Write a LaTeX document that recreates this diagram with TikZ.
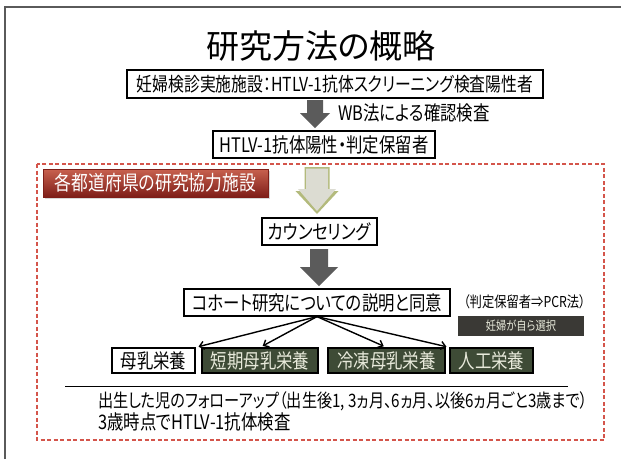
\documentclass[tikz,border=0pt]{standalone}
\usepackage{fontspec}
\usetikzlibrary{arrows.meta,shadows}
\newfontfamily\jp[RawFeature=+palt,FakeStretch=0.82]{Noto Sans CJK JP}
\newfontfamily\jptitle[RawFeature=+palt]{Noto Sans CJK JP}
\definecolor{framegray}{HTML}{5A5A5A}
\definecolor{arrowgray}{HTML}{5B5B5B}
\definecolor{lightfill}{HTML}{DCDCD2}
\definecolor{lightedge}{HTML}{B3BA7C}
\definecolor{dashred}{HTML}{D4554B}
\definecolor{labtop}{HTML}{C8614F}
\definecolor{labbot}{HTML}{7E1E18}
\definecolor{boxgreen}{HTML}{3E4B36}
\definecolor{boxtext}{HTML}{E8EADB}
\definecolor{selfill}{HTML}{3A3935}
\newcommand{\blockarr}[7]{%
  \fill[#1] (#2-#5,#3) -- (#2+#5,#3) -- (#2+#5,#4-#7) -- (#2+#6,#4-#7) -- (#2,#4)
    -- (#2-#6,#4-#7) -- (#2-#5,#4-#7) -- cycle;}
\begin{document}
\begin{tikzpicture}[x=1pt,y=-1pt,
  txt/.style={inner sep=0pt, font=\jp\fontsize{20}{22}\selectfont},
  box/.style={draw=black, line width=1.2pt, fill=white, inner sep=0pt,
    font=\jp\fontsize{20}{22}\selectfont},
  gbox/.style={box, fill=boxgreen, text=boxtext},
  redlabel/.style={draw=labbot, line width=0.6pt, top color=labtop, bottom color=labbot,
    text=white, inner sep=0pt, font=\jp\fontsize{20.5}{22}\selectfont,
    drop shadow={opacity=0.3, shadow xshift=1.5pt, shadow yshift=-1.5pt}},
  selbox/.style={fill=selfill, text=boxtext, inner sep=0pt,
    font=\jp\fontsize{12.5}{14}\selectfont},
  conn/.style={draw=black, line width=1.4pt, shorten >=3pt,
    -{Straight Barb[length=4.5pt,width=8pt]}},
  reddash/.style={draw=dashred, line width=1.2pt, dash pattern=on 4pt off 2.5pt}
]
\useasboundingbox (0,0) rectangle (621,459);
\fill[white] (0,0) rectangle (621,459);
\draw[framegray, line width=1.5pt] (5,459) -- (5,7) -- (621,7);

% title
\node[inner sep=0pt, font=\jptitle\fontsize{33}{36}\selectfont] (title) at (321,46) {研究方法の概略};

% upper part
\node[box, minimum width=416pt, minimum height=28pt, font=\jp\fontsize{19.3}{21}\selectfont] (b1) at (335,84)
  {妊婦検診実施施設：HTLV-1抗体スクリーニング検査陽性者};
\blockarr{arrowgray}{315}{100}{128}{8}{15}{15}
\node[txt, anchor=west] (wb) at (338,113) {WB法による確認検査};
\node[box, minimum width=222pt, minimum height=27pt] (b2) at (324,144.5)
  {HTLV-1抗体陽性・判定保留者};

% research facilities frame
\draw[reddash] (37,164) rectangle (604,440);
\node[redlabel, minimum width=225pt, minimum height=28pt] (lab) at (155.5,183)
  {各都道府県の研究協力施設};

\blockarr{lightedge}{317}{167}{214}{12.5}{21.5}{23}
\blockarr{lightfill}{317}{168.5}{211}{11}{19}{22}

\node[box, minimum width=115pt, minimum height=27pt] (b3) at (319.5,231.5) {カウンセリング};
\blockarr{arrowgray}{319}{249}{286}{9}{19}{19}
\node[box, minimum width=266pt, minimum height=27pt] (b4) at (317,302.5)
  {コホート研究についての説明と同意};
\node[txt, font=\jp\fontsize{15}{17}\selectfont] (pcr) at (524.5,302) {（判定保留者⇒PCR法）};
\node[selbox, minimum width=126pt, minimum height=20pt] (sel) at (521,326) {妊婦が自ら選択};

% feeding options
\node[box, minimum width=83pt, minimum height=25pt] (m1) at (153.5,360.5) {母乳栄養};
\node[gbox, minimum width=116pt, minimum height=25pt] (m2) at (260,360.5) {短期母乳栄養};
\node[gbox, minimum width=117pt, minimum height=25pt] (m3) at (386.5,360.5) {冷凍母乳栄養};
\node[gbox, minimum width=83pt, minimum height=25pt] (m4) at (491.5,360.5) {人工栄養};

\draw[conn] (b4.south) -- (m1.north east);
\draw[conn] (b4.south) -- (m2.north);
\draw[conn] (b4.south) -- (m3.north);
\draw[conn] (b4.south) -- (m4.north west);

% follow-up
\coordinate (hl) at (65,386);
\coordinate (hr) at (568,386);
\draw[black, line width=1pt] (hl) -- (hr);
\node[txt, anchor=west, font=\jp\fontsize{18.5}{20}\selectfont] (f1) at (98,401)
  {出生した児のフォローアップ（出生後1, 3ヵ月、6ヵ月、以後6ヵ月ごと3歳まで）};
\node[txt, anchor=west] (f2) at (98,422) {3歳時点でHTLV-1抗体検査};
\end{tikzpicture}
\end{document}
